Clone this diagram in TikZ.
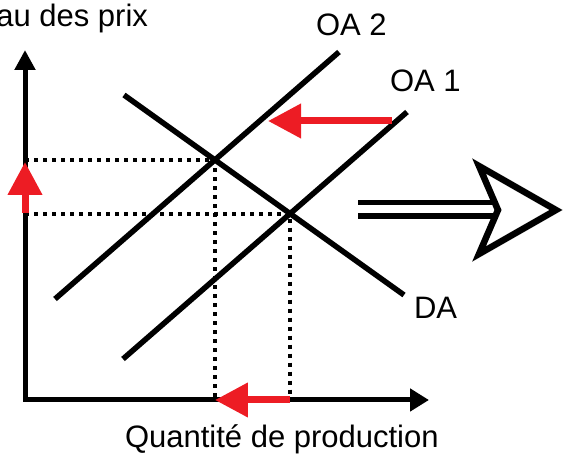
\documentclass[tikz,border=0pt]{standalone}
\usepackage{fontspec}
\setmainfont{Liberation Sans}
\usetikzlibrary{
  arrows.meta,
  positioning
}
\definecolor{rouge}{HTML}{ED1C24}

\begin{document}
\begin{tikzpicture}[
            x=1pt, y=-1pt,
            font=\fontsize{31}{36}\selectfont,
            % Stili
            etiquette/.style={inner sep=0pt, outer sep=0pt},
            axe/.style={line width=5pt, line join=miter, {Triangle[length=20pt,width=20pt]}-{Triangle[length=19pt,width=22pt]}},
            courbe/.style={line width=5.5pt},
            pointille/.style={line width=4pt, dash pattern=on 4pt off 5pt},
            deplacement/.style={draw=rouge, line width=7pt, -{Triangle[length=33pt,width=33pt]}},
            grandefleche/.style={line width=6.5pt, line join=miter, miter limit=10, fill=white}
        ]
        \useasboundingbox (0,0) rectangle (563,454);

        % Points
        \coordinate (origine) at (25,400);
        \coordinate (ytip) at (25,50);
        \coordinate (xtip) at (429,400);
        \coordinate (oa2a) at (55,299);
        \coordinate (oa2b) at (339,52);
        \coordinate (oa1a) at (123,359);
        \coordinate (oa1b) at (407,112);
        \coordinate (daa) at (124,95);
        \coordinate (dab) at (404,295);
        \coordinate (e2) at (intersection of oa2a--oa2b and daa--dab);
        \coordinate (e1) at (intersection of oa1a--oa1b and daa--dab);

        % Pointilles
        \draw [pointille] (origine |- e2) -- (e2) -- (e2 |- origine);
        \draw [pointille] (origine |- e1) -- (e1) -- (e1 |- origine);

        % Axes et courbes
        \draw [axe] (ytip) -- (origine) -- (xtip);
        \draw [courbe] (oa2a) -- (oa2b);
        \draw [courbe] (oa1a) -- (oa1b);
        \draw [courbe] (daa) -- (dab);

        % Etiquettes
        \node (prix) [etiquette, anchor=base east] at (148,27) {Niveau des prix};
        \node (quantite) [etiquette, anchor=base west] at (125,448) {Quantité de production};
        \node (loa2) [etiquette, anchor=base west] at (316,36) {OA 2};
        \node (loa1) [etiquette, anchor=base west] at (390,92) {OA 1};
        \node (lda) [etiquette, anchor=base west] at (414,319) {DA};

        % Deplacements
        \coordinate (depart) at (392,121);
        \coordinate (arrivee) at (268,121);
        \draw [deplacement] (depart) -- (arrivee);
        \draw [deplacement] ([yshift=1pt]origine |- e1) -- ([yshift=-2pt]origine |- e2);
        \draw [deplacement] (e1 |- origine) -- (e2 |- origine);

        % Grande fleche
        \coordinate (gauche) at (358,210);
        \draw [line width=6pt] ([yshift=-6.5pt]gauche) -- ++(142,0);
        \draw [line width=5pt] ([yshift=7pt]gauche) -- ++(142,0);
        \draw [grandefleche] (479,166) -- (556,210) -- (479,254) -- (498,210) -- cycle;

    \end{tikzpicture}
\end{document}
